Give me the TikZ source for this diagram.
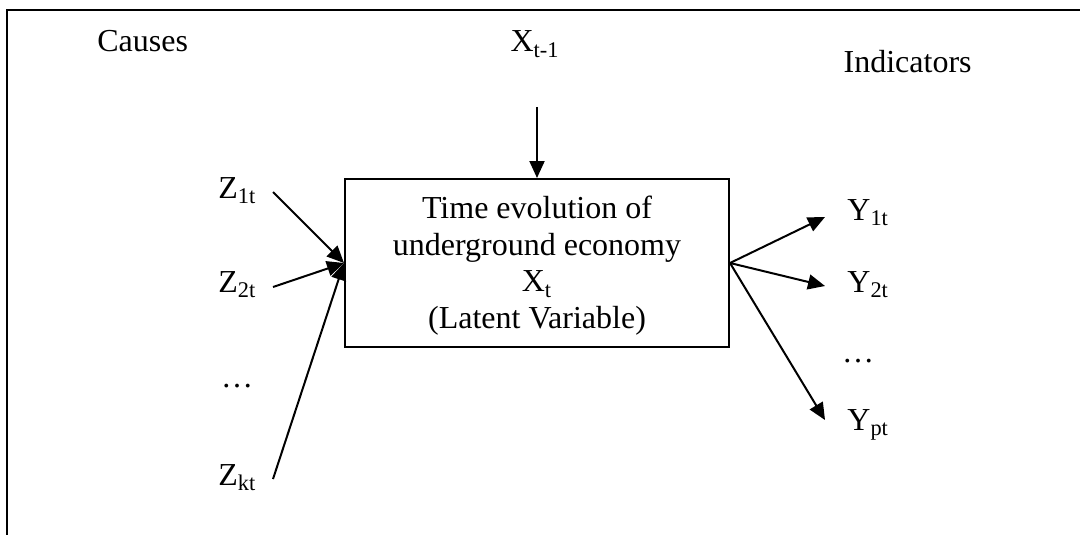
\documentclass[tikz,border=0pt]{standalone}
\usepackage{fontspec}
\setmainfont{Liberation Serif}
\usetikzlibrary{arrows.meta}
\tikzset{
  lbl/.style={inner sep=0pt, font=\fontsize{16}{18.35}\selectfont},
  conn/.style={line width=1pt, -{Triangle[length=8.5pt,width=7.5pt]}},
  frame/.style={line width=1.4pt},
  mainbox/.style={draw, line width=1pt, minimum width=192pt, minimum height=84pt,
    inner sep=0pt, align=center, font=\fontsize{16}{18.35}\selectfont}
}
\begin{document}
\begin{tikzpicture}[x=0.5pt,y=-0.5pt]
\useasboundingbox (0,0) rectangle (1080,535);
% frame (top and left edges only)
\coordinate (fr1) at (1080,10);
\coordinate (fr2) at (7,10);
\coordinate (fr3) at (7,535);
\draw[frame] (fr1) -- (fr2) -- (fr3);
% headings
\node[lbl, anchor=base west] (causes) at (97,52) {Causes};
\node[lbl, anchor=base] (xprev) at (535,52) {X\textsubscript{t-1}};
\node[lbl, anchor=base east] (ind) at (972,73) {Indicators};
% main box
\node[mainbox] (box) at (537,263) {\rule{0pt}{14pt}Time evolution of\\underground economy\\X\textsubscript{t}\\(Latent Variable)};
% causes
\node[lbl, anchor=base west] (z1) at (218,198) {Z\textsubscript{1t}};
\node[lbl, anchor=base west] (z2) at (218,292) {Z\textsubscript{2t}};
\node[lbl, anchor=base] (zd) at (237,387) {…};
\node[lbl, anchor=base west] (zk) at (218,485) {Z\textsubscript{kt}};
% indicators
\node[lbl, anchor=base west] (y1) at (847,220) {Y\textsubscript{1t}};
\node[lbl, anchor=base west] (y2) at (847,292) {Y\textsubscript{2t}};
\node[lbl, anchor=base] (yd) at (858,362) {…};
\node[lbl, anchor=base west] (yp) at (847,430) {Y\textsubscript{pt}};
% connector end points
\coordinate (xtop) at (537,107);
\coordinate (z1s) at (273,192);
\coordinate (z2s) at (273,287);
\coordinate (zks) at (273,479);
\coordinate (y1e) at (825,217);
\coordinate (y2e) at (825,286);
\coordinate (ype) at (825,420);
% connectors
\draw[conn] (xtop) -- (box.north);
\draw[conn] (z1s) -- (box.west);
\draw[conn] (z2s) -- (box.west);
\draw[conn] (zks) -- (box.west);
\draw[conn] (box.east) -- (y1e);
\draw[conn] (box.east) -- (y2e);
\draw[conn] (box.east) -- (ype);
\end{tikzpicture}
\end{document}
